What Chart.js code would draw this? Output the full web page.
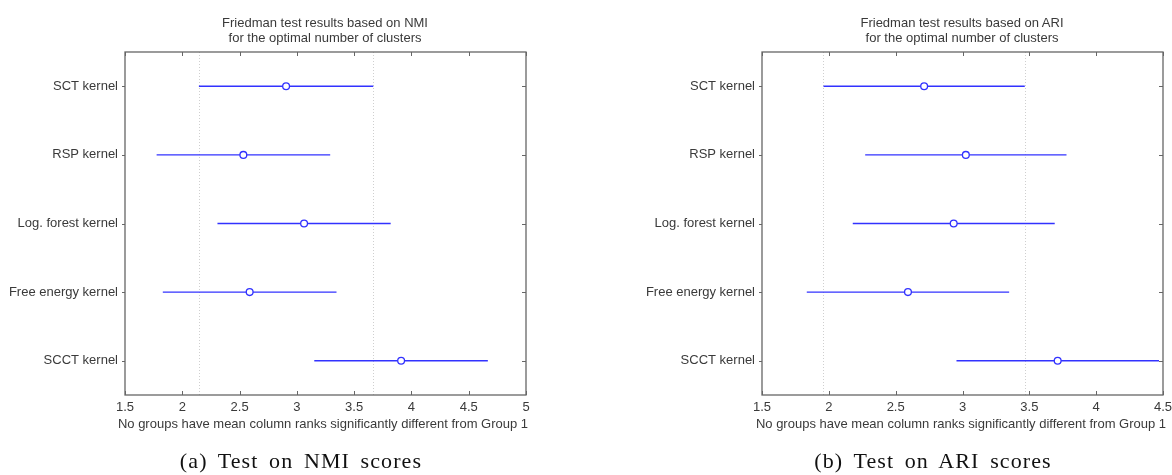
<!DOCTYPE html>
<html>
<head>
<meta charset="utf-8">
<script src="https://cdn.jsdelivr.net/npm/chart.js@4"></script>
<style>
  html, body { margin: 0; padding: 0; background: #fff; }
  body { width: 1172px; height: 475px; position: relative; overflow: hidden; font-family: "Liberation Sans", Arial, sans-serif; }
  .box { position: absolute; top: 0; height: 475px; }
  .ttl { position: absolute; text-align: center; color: #3a3a3a; font-size: 13px; line-height: 15px; white-space: nowrap; transform: translateX(-50%); }
  .xt { position: absolute; color: #3a3a3a; font-size: 13px; line-height: 16px; white-space: nowrap; transform: translateX(-50%); }
  .cap { position: absolute; font-family: "Liberation Serif", "DejaVu Serif", serif; font-size: 22px; line-height: 24px; letter-spacing: 1.1px; word-spacing: 4px; color: #111; white-space: nowrap; transform: translateX(-50%); }
</style>
</head>
<body>
<div class="box" id="boxA" style="left:0;width:545px;"><canvas id="cA"></canvas></div>
<div class="box" id="boxB" style="left:640px;width:532px;"><canvas id="cB"></canvas></div>

<div class="ttl" style="left:325px;top:15px;">Friedman test results based on NMI<br>for the optimal number of clusters</div>
<div class="ttl" style="left:962px;top:15px;">Friedman test results based on ARI<br>for the optimal number of clusters</div>
<div class="xt" style="left:323px;top:416px;">No groups have mean column ranks significantly different from Group 1</div>
<div class="xt" style="left:961px;top:416px;">No groups have mean column ranks significantly different from Group 1</div>
<div class="cap" style="left:301px;top:449px;">(a) Test on NMI scores</div>
<div class="cap" style="left:933px;top:449px;">(b) Test on ARI scores</div>

<script>
// ---- data ----
const categories = ['SCT kernel', 'RSP kernel', 'Log. forest kernel', 'Free energy kernel', 'SCCT kernel'];
const nmiMean = [2.906, 2.533, 3.063, 2.588, 3.91];
const nmiLow  = [2.145, 1.776, 2.307, 1.83, 3.152];
const nmiHigh = [3.667, 3.291, 3.819, 3.346, 4.667];
const ariMean = [2.713, 3.025, 2.934, 2.592, 3.712];
const ariLow  = [1.96, 2.272, 2.179, 1.835, 2.955];
const ariHigh = [3.466, 3.778, 3.69, 3.349, 4.47];
const nmiTicks = [1.5, 2, 2.5, 3, 3.5, 4, 4.5, 5];
const ariTicks = [1.5, 2, 2.5, 3, 3.5, 4, 4.5];

const BLUE = 'rgb(50,50,255)';
const TXT = '#3a3a3a';
const FONT = { family: '"Liberation Sans", Arial, sans-serif', size: 13 };

const frame = {
  id: 'frame',
  beforeDatasetsDraw(chart, args, opts) {
    const { ctx, chartArea: a, scales: { x } } = chart;
    ctx.save();
    // reference lines at group 1 interval
    ctx.strokeStyle = '#cfcfcf';
    ctx.lineWidth = 1;
    ctx.setLineDash([1, 2]);
    opts.refs.forEach(v => {
      const px = Math.round(x.getPixelForValue(v)) + 0.5;
      ctx.beginPath(); ctx.moveTo(px, a.top); ctx.lineTo(px, a.bottom); ctx.stroke();
    });
    ctx.restore();
  },
  afterDraw(chart) {
    const { ctx, chartArea: a, scales: { x, y } } = chart;
    ctx.save();
    ctx.strokeStyle = '#666';
    ctx.lineWidth = 1.3;
    ctx.strokeRect(a.left, a.top, a.right - a.left, a.bottom - a.top);
    ctx.lineWidth = 1;
    ctx.beginPath();
    x.ticks.forEach((t, i) => {
      const px = Math.round(x.getPixelForTick(i)) + 0.5;
      ctx.moveTo(px, a.top); ctx.lineTo(px, a.top + 4);
      ctx.moveTo(px, a.bottom); ctx.lineTo(px, a.bottom - 4);
    });
    y.ticks.forEach((t, i) => {
      const py = Math.round(y.getPixelForTick(i)) + 0.5;
      ctx.moveTo(a.left - 3, py); ctx.lineTo(a.left, py);
      ctx.moveTo(a.right, py); ctx.lineTo(a.right - 4, py);
    });
    ctx.stroke();
    ctx.restore();
  }
};

function makeChart(id, mean, low, high, ticks, yWidth, padRight) {
  const intervals = categories.map((c, i) => ({
    type: 'line',
    data: [{ x: low[i], y: c }, { x: high[i], y: c }],
    borderColor: BLUE, borderWidth: 1.4, pointRadius: 0, fill: false, order: 2
  }));
  const points = {
    type: 'scatter',
    data: categories.map((c, i) => ({ x: mean[i], y: c })),
    pointStyle: 'circle', pointRadius: 3.4, borderWidth: 1.3,
    borderColor: BLUE, backgroundColor: '#fff', order: 1
  };
  return new Chart(document.getElementById(id), {
    data: { datasets: [...intervals, points] },
    plugins: [frame],
    options: {
      responsive: true, maintainAspectRatio: false, animation: false,
      layout: { padding: { top: 52, right: padRight, bottom: 0, left: 0 } },
      plugins: { legend: { display: false }, tooltip: { enabled: false }, title: { display: false },
                 frame: { refs: [low[0], high[0]] } },
      scales: {
        x: {
          type: 'linear', position: 'bottom',
          min: ticks[0], max: ticks[ticks.length - 1],
          afterBuildTicks: s => { s.ticks = ticks.map(v => ({ value: v })); },
          afterFit: s => { s.height = 80; s.paddingLeft = 0; s.paddingRight = 0; },
          grid: { display: false, drawTicks: false },
          border: { display: false },
          ticks: { color: TXT, font: FONT, padding: 5, maxRotation: 0, autoSkip: false,
                   callback: v => String(v) }
        },
        y: {
          type: 'category', labels: categories, offset: true,
          afterFit: s => { s.width = yWidth; },
          grid: { display: false, drawTicks: false, offset: true },
          border: { display: false },
          ticks: { color: TXT, font: FONT, padding: 7 }
        }
      }
    }
  });
}

makeChart('cA', nmiMean, nmiLow, nmiHigh, nmiTicks, 125, 19);
makeChart('cB', ariMean, ariLow, ariHigh, ariTicks, 122, 9);
</script>
</body>
</html>
